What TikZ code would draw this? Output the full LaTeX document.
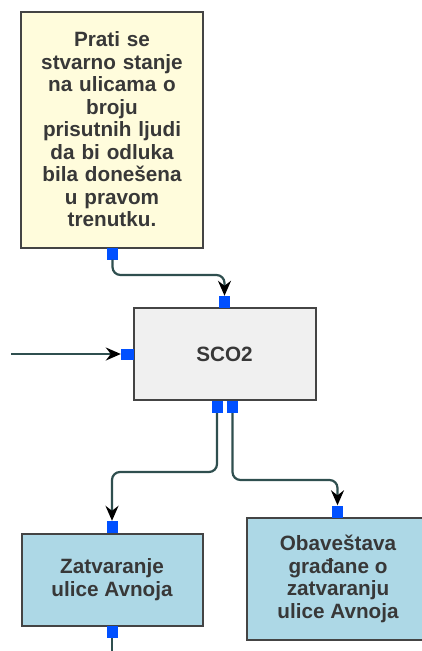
\documentclass[tikz,border=0pt]{standalone}
\usepackage{fontspec}
\setmainfont{Liberation Sans}
\usetikzlibrary{arrows.meta,calc}
\definecolor{boxborder}{HTML}{444444}
\definecolor{txt}{HTML}{383838}
\definecolor{notefill}{HTML}{FFFCDC}
\definecolor{procfill}{HTML}{F0F0F0}
\definecolor{actfill}{HTML}{ADD8E6}
\definecolor{portblue}{HTML}{0050FF}
\definecolor{wire}{HTML}{2F4F4F}
\tikzset{
  box/.style={draw=boxborder, line width=2pt, rectangle, inner sep=0pt,
    text=txt, font=\fontsize{20.7}{22.5}\selectfont\bfseries, align=center},
  port/.style={fill=portblue, draw=none, rectangle, inner sep=0pt,
    minimum width=11pt, minimum height=12pt},
  conn/.style={draw=wire, line width=2.2pt, rounded corners=8pt},
  tip/.style={-{Stealth[length=15pt,width=13pt,inset=5pt,black]}}
}
\begin{document}
\begin{tikzpicture}[x=1pt,y=-1pt]
\useasboundingbox (0,0) rectangle (422,651);
% boxes
\node[box, fill=notefill, minimum width=182pt, minimum height=236pt, text width=170pt]
  (note) at (112,129.5) {Prati se\\stvarno stanje\\na ulicama o\\broju\\prisutnih ljudi\\da bi odluka\\bila donešena\\u pravom\\trenutku.};
\node[box, fill=procfill, minimum width=182pt, minimum height=92pt]
  (sco) at (224.5,354) {SCO2};
\node[box, fill=actfill, minimum width=181pt, minimum height=92pt]
  (zat) at (112,579.5) {Zatvaranje\\ulice Avnoja};
\node[box, fill=actfill, minimum width=182pt, minimum height=122pt]
  (oba) at (338,579) {Obaveštava\\građane o\\zatvaranju\\ulice Avnoja};
% ports
\node[port] (pnote) at (112.5,253.5) {};
\node[port] (pscotop) at (224.5,302) {};
\node[port, minimum width=13pt, minimum height=11pt] (pscoleft) at (127.5,354) {};
\node[port] (pscob1) at (217,407) {};
\node[port] (pscob2) at (232.5,407) {};
\node[port] (pzattop) at (112,527) {};
\node[port] (pzatbot) at (112,632) {};
\node[port] (pobatop) at (337.5,511.5) {};
% free ends
\coordinate (inL) at (11,354);
\coordinate (outB) at (112,655);
% connectors
\draw[conn, tip] (pnote.south) -- (pnote.south |- 0,275) -| (pscotop.north);
\draw[conn, tip] (inL) -- (pscoleft.west);
\draw[conn, tip] (pscob1.south) -- (pscob1.south |- 0,472) -| (pzattop.north);
\draw[conn, tip] (pscob2.south) -- (pscob2.south |- 0,480) -| (pobatop.north);
\draw[conn] (pzatbot.south) -- (outB);
\end{tikzpicture}
\end{document}
